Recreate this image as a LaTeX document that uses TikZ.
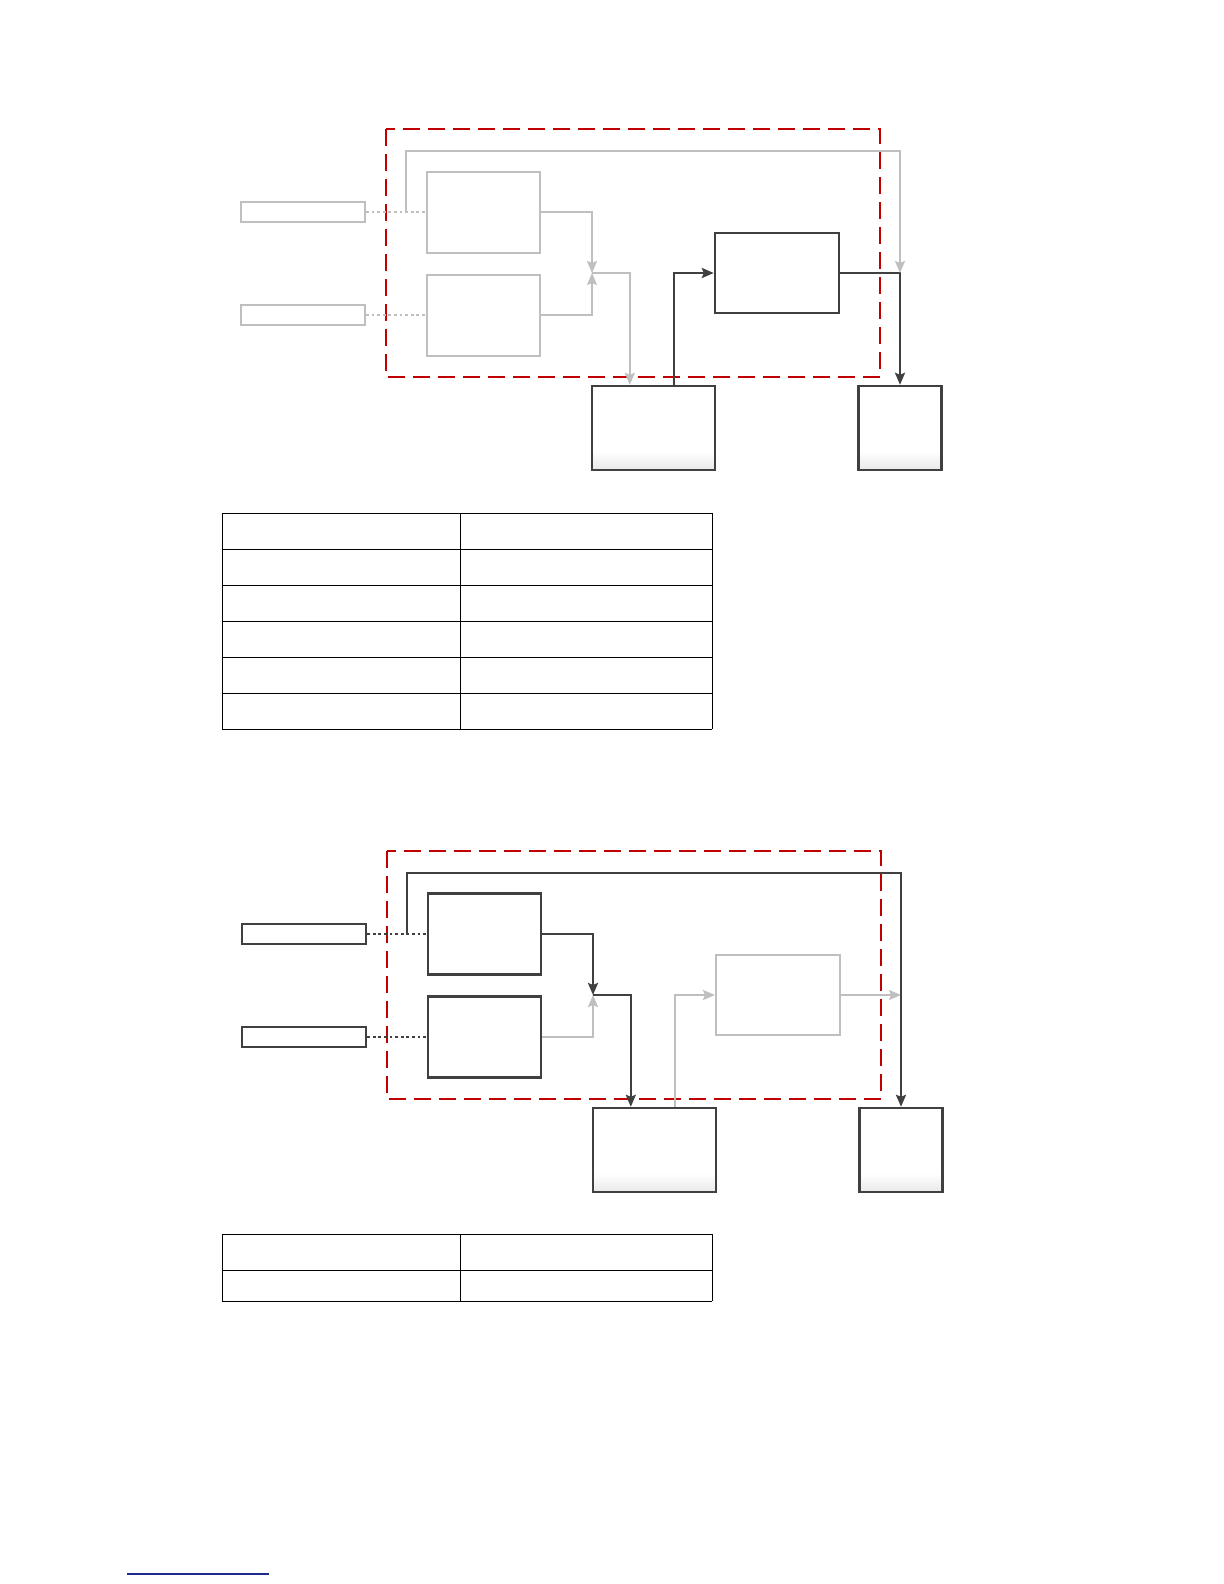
\documentclass[tikz,border=0pt]{standalone}
\usetikzlibrary{arrows.meta,calc,shadows}
\definecolor{frameRed}{HTML}{C00000}
\definecolor{lineGray}{HTML}{BFBFBF}
\definecolor{lineDark}{HTML}{404040}
\definecolor{linkBlue}{HTML}{1F2A8F}
\pgfdeclareverticalshading{bottomFade}{100bp}{color(0bp)=(black!9); color(25bp)=(black!9); color(36bp)=(white); color(100bp)=(white)}
\tikzset{
  frame/.style={draw=frameRed, line width=1.3pt, dash pattern=on 8.5pt off 4pt},
  box/.style={rectangle, draw, fill=white, inner sep=0pt},
  lightBox/.style={box, draw=lineGray, line width=1pt, drop shadow={shadow xshift=0.6pt, shadow yshift=-0.6pt, fill=black!10}},
  darkBox/.style={box, draw=lineDark, line width=1.2pt, drop shadow={shadow xshift=0.6pt, shadow yshift=-0.6pt, fill=black!22}},
  inSize/.style={minimum width=62pt, minimum height=10pt},
  blockSize/.style={minimum width=56.5pt, minimum height=40.5pt},
  fade/.style={shade, shading=bottomFade},
  lightLine/.style={draw=lineGray, line width=1pt},
  darkLine/.style={draw=lineDark, line width=1.2pt},
  lightDots/.style={draw=lineGray, line width=1.4pt, dash pattern=on 1.4pt off 1.4pt},
  darkDots/.style={draw=lineDark, line width=1.4pt, dash pattern=on 1.4pt off 1.4pt},
  grid/.style={draw=black, line width=0.5pt}
}
\begin{document}
\begin{tikzpicture}[x=0.5pt, y=-0.5pt, >={Stealth[length=6pt,width=5pt,inset=1pt]}]
    \useasboundingbox (0,0) rectangle (1224,1584);
    % upper diagram
    \draw[frame] (386,129) rectangle (880,377);
    \node[lightBox, inSize] (tin1) at (303,212) {};
    \node[lightBox, inSize] (tin2) at (303,315) {};
    \node[lightBox, blockSize] (ta1) at (483.5,212) {};
    \node[lightBox, blockSize] (ta2) at (483.5,315) {};
    \node[darkBox, fade, minimum width=61.5pt, minimum height=42pt] (tb) at (653.5,428) {};
    \node[darkBox, minimum width=62pt, minimum height=40pt] (tc) at (777,273) {};
    \node[darkBox, fade, minimum width=41.5pt, minimum height=42pt] (td) at (900,428) {};
    \coordinate (tsplit) at (406,212);
    \coordinate (tj) at (592,273);
    \coordinate (tfb) at (900,273);
    \coordinate (tbin) at ($(tb.north west)+(39,0)$);
    \coordinate (tbout) at ($(tb.north west)+(83,0)$);
    \draw[lightDots] (tin1) -- (ta1);
    \draw[lightDots] (tin2) -- (ta2);
    \draw[lightLine, ->] (ta1.east) -| (tj);
    \draw[lightLine, ->] (ta2.east) -| (tj);
    \draw[lightLine, ->] (tj) -| (tbin);
    \draw[darkLine, ->] (tbout) |- (tc.west);
    \draw[darkLine, ->] (tc.east) -| (td.north);
    \draw[lightLine, ->] (tsplit) -- ++(0,-61) -| (tfb);
    % upper table
    \foreach \r in {0,...,6}
        \draw[grid] (222,513+36*\r) -- (712,513+36*\r);
    \draw[grid] (222,513) -- (222,729);
    \draw[grid] (460,513) -- (460,729);
    \draw[grid] (712,513) -- (712,729);
    % lower diagram
    \begin{scope}[shift={(1,722)}]
        \draw[frame] (386,129) rectangle (880,377);
        \node[darkBox, inSize] (bin1) at (303,212) {};
        \node[darkBox, inSize] (bin2) at (303,315) {};
        \node[darkBox, blockSize] (ba1) at (483.5,212) {};
        \node[darkBox, blockSize] (ba2) at (483.5,315) {};
        \node[darkBox, fade, minimum width=61.5pt, minimum height=42pt] (bb) at (653.5,428) {};
        \node[lightBox, minimum width=62pt, minimum height=40pt] (bc) at (777,273) {};
        \node[darkBox, fade, minimum width=41.5pt, minimum height=42pt] (bd) at (900,428) {};
        \coordinate (bsplit) at (406,212);
        \coordinate (bj) at (592,273);
        \coordinate (bfb) at (900,273);
        \coordinate (bbin) at ($(bb.north west)+(39,0)$);
        \coordinate (bbout) at ($(bb.north west)+(83,0)$);
        \draw[darkDots] (bin1) -- (ba1);
        \draw[darkDots] (bin2) -- (ba2);
        \draw[darkLine, ->] (ba1.east) -| (bj);
        \draw[lightLine, ->] (ba2.east) -| (bj);
        \draw[darkLine, ->] (bj) -| (bbin);
        \draw[lightLine, ->] (bbout) |- (bc.west);
        \draw[lightLine, ->] (bc.east) -- (bfb);
        \draw[darkLine, ->] (bsplit) -- ++(0,-61) -| (bd.north);
    \end{scope}
    % lower table
    \foreach \y in {1234,1270,1301}
        \draw[grid] (222,\y) -- (712,\y);
    \draw[grid] (222,1234) -- (222,1301);
    \draw[grid] (460,1234) -- (460,1301);
    \draw[grid] (712,1234) -- (712,1301);
    % link rule
    \draw[linkBlue, line width=0.7pt] (127,1574) -- (269,1574);
\end{tikzpicture}
\end{document}
